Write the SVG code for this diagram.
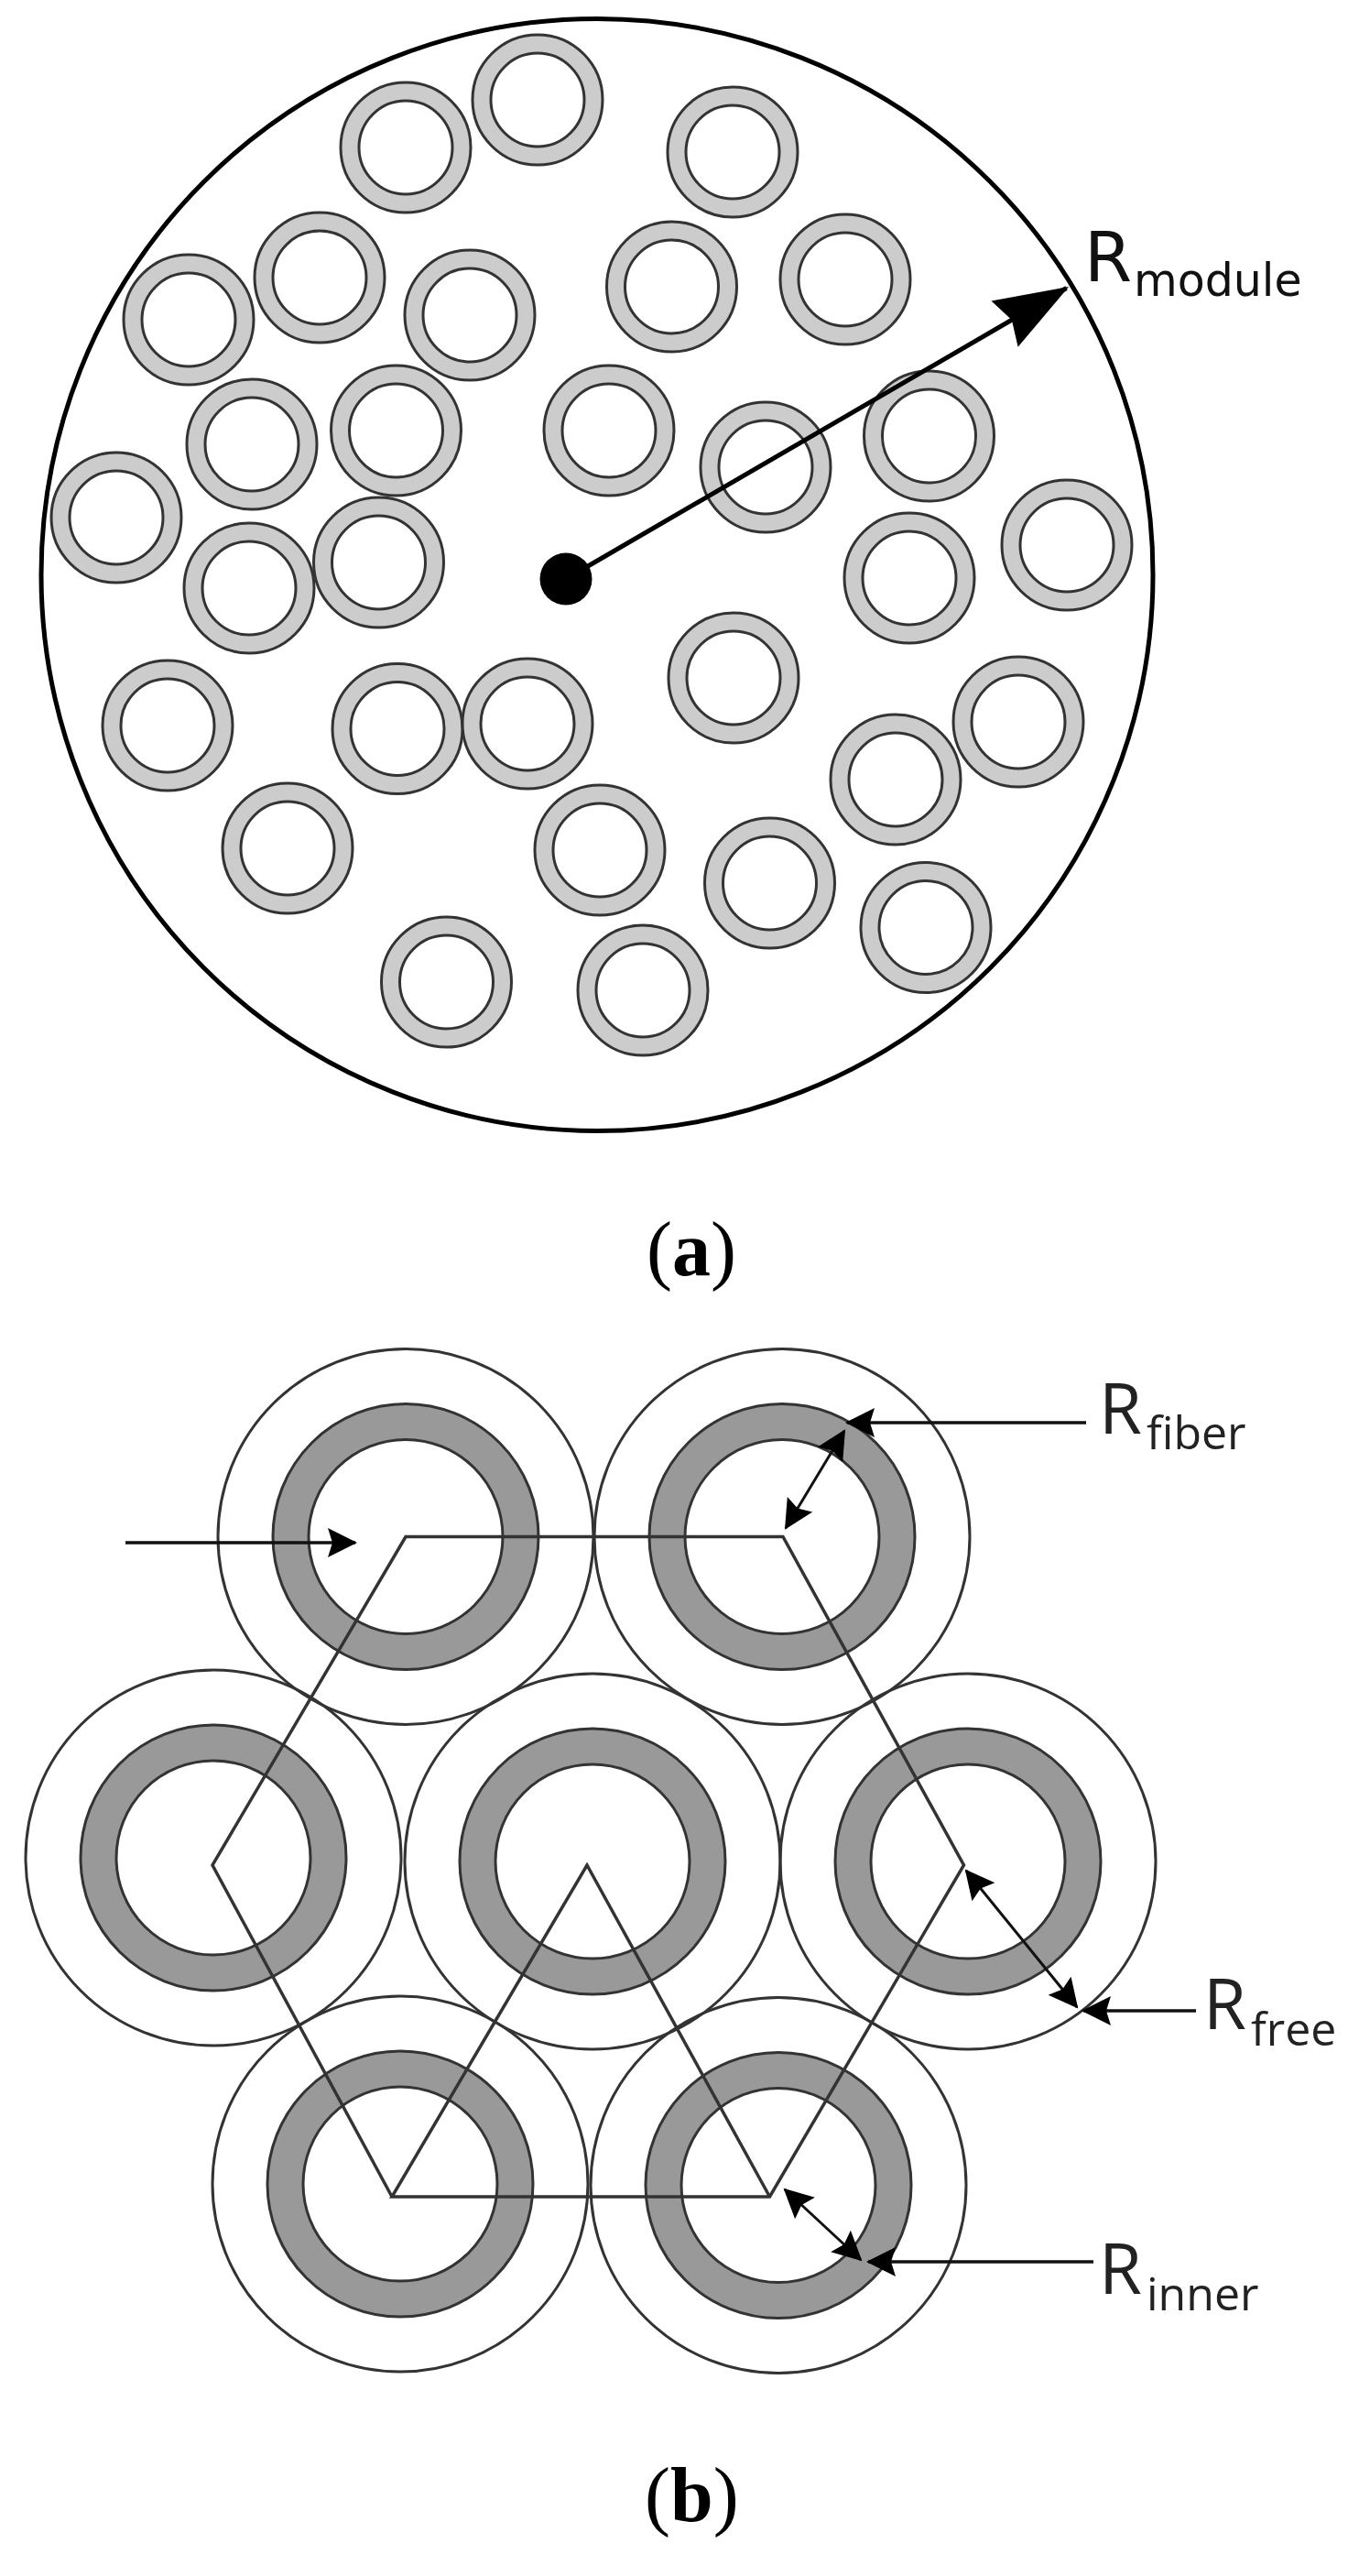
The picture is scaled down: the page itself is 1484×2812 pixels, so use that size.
<svg xmlns="http://www.w3.org/2000/svg" xmlns:xlink="http://www.w3.org/1999/xlink" width="1484" height="2812" viewBox="0 0 1484 2812">
<style>
.f1o{fill:#ccc;stroke:#333;stroke-width:3}
.f1i{fill:#fff;stroke:#333;stroke-width:3}
.f2f{fill:none;stroke:#333;stroke-width:3}
.f2o{fill:#999;stroke:#333;stroke-width:3}
.f2i{fill:#fff;stroke:#333;stroke-width:3}
.lat{fill:none;stroke:#333;stroke-width:3.5;stroke-linejoin:miter}
.ar{fill:none;stroke:#111;stroke-width:3.5}
.ard{fill:none;stroke:#111;stroke-width:3}
.R1{font-family:"DejaVu Sans",sans-serif;fill:#111}
.R2{font-family:"Open Sans",sans-serif;fill:#222}
.cap{font-family:"Liberation Serif",serif;font-size:84px;fill:#000}
.b{font-weight:bold}
</style>
<defs>
<marker id="hBig" markerUnits="userSpaceOnUse" markerWidth="90" markerHeight="70" viewBox="0 -35 90 70" refX="78" refY="0" orient="auto"><path d="M0,-29L81,0L0,29L9,0z" fill="#000"/></marker>
<marker id="hS" markerUnits="userSpaceOnUse" markerWidth="40" markerHeight="40" viewBox="0 -20 40 40" refX="30" refY="0" orient="auto-start-reverse"><path d="M0,-16L32,0L0,16L5,0z" fill="#000"/></marker>
<g id="f"><circle class="f1o" r="71"/><circle class="f1i" r="51"/></g>
<g id="c"><circle class="f2f" r="205"/><circle class="f2o" r="145"/><circle class="f2i" r="106"/></g>
</defs>
<rect width="1484" height="2812" fill="#fff"/>
<g id="module">
<circle cx="652" cy="627.5" r="607" fill="none" stroke="#000" stroke-width="5"/>
<use id="a1" href="#f" x="587" y="109"/>
<use id="a2" href="#f" x="443" y="161"/>
<use id="a3" href="#f" x="800" y="166"/>
<use id="a4" href="#f" x="206" y="349"/>
<use id="a5" href="#f" x="349" y="303"/>
<use id="a6" href="#f" x="513" y="344"/>
<use id="a7" href="#f" x="733.5" y="313"/>
<use id="a8" href="#f" x="923" y="305"/>
<use id="a9" href="#f" x="275" y="485"/>
<use id="a10" href="#f" x="432.5" y="470"/>
<use id="a11" href="#f" x="665" y="470"/>
<use id="a12" href="#f" x="836" y="510"/>
<use id="a13" href="#f" x="1014.5" y="476"/>
<use id="a14" href="#f" x="127" y="565"/>
<use id="a15" href="#f" x="272" y="642"/>
<use id="a16" href="#f" x="413.5" y="614"/>
<use id="a17" href="#f" x="993" y="631"/>
<use id="a18" href="#f" x="1165" y="595"/>
<use id="a19" href="#f" x="801" y="740"/>
<use id="a20" href="#f" x="183" y="792"/>
<use id="a21" href="#f" x="434" y="795.5"/>
<use id="a22" href="#f" x="576" y="790"/>
<use id="a23" href="#f" x="1112" y="788"/>
<use id="a24" href="#f" x="978" y="851"/>
<use id="a25" href="#f" x="314" y="926"/>
<use id="a26" href="#f" x="655" y="928"/>
<use id="a27" href="#f" x="840.5" y="964"/>
<use id="a28" href="#f" x="1011" y="1012.5"/>
<use id="a29" href="#f" x="487.5" y="1072"/>
<use id="a30" href="#f" x="702" y="1081"/>
<circle id="centre" cx="618" cy="632" r="28.5" fill="#000"/>
</g>
<g id="connectors-a">
<line x1="618" y1="632" x2="1164.5" y2="314.5" stroke="#000" stroke-width="5" marker-end="url(#hBig)"/>
</g>
<g id="labels-a">
<text class="R1" x="1184" y="307" font-size="75">R</text>
<text class="R1" x="1238" y="323" font-size="49">module</text>
<text class="cap" x="706" y="1392"><tspan>(</tspan><tspan class="b">a</tspan><tspan>)</tspan></text>
</g>
<g id="bundle">
<use id="b1" href="#c" x="443" y="1677.5"/>
<use id="b2" href="#c" x="854" y="1677.5"/>
<use id="b3" href="#c" x="233" y="2028"/>
<use id="b4" href="#c" x="647" y="2032"/>
<use id="b5" href="#c" x="1057" y="2032"/>
<use id="b6" href="#c" x="437" y="2384"/>
<use id="b7" href="#c" x="850" y="2385.5"/>
</g>
<g id="connectors-b">
<path class="lat" d="M428,2398L232,2036L443,1677.5H855L1052.5,2036L840.5,2398H428L641,2036L840.5,2398"/>
<line class="ar" x1="137" y1="1684" x2="388" y2="1684" marker-end="url(#hS)"/>
<line class="ar" x1="1186" y1="1553" x2="925" y2="1553" marker-end="url(#hS)"/>
<line class="ard" x1="922" y1="1562" x2="858" y2="1668" marker-start="url(#hS)" marker-end="url(#hS)"/>
<line class="ar" x1="1306" y1="2195" x2="1183" y2="2195" marker-end="url(#hS)"/>
<line class="ard" x1="1055" y1="2042" x2="1176" y2="2191" marker-start="url(#hS)" marker-end="url(#hS)"/>
<line class="ar" x1="1194" y1="2469" x2="948" y2="2469" marker-end="url(#hS)"/>
<line class="ard" x1="857" y1="2390" x2="940" y2="2467" marker-start="url(#hS)" marker-end="url(#hS)"/>
</g>
<g id="labels-b">
<text class="R2" x="1200" y="1565" font-size="76">R</text>
<text class="R2" x="1252" y="1582" font-size="50">fiber</text>
<text class="R2" x="1314" y="2215" font-size="76">R</text>
<text class="R2" x="1366" y="2233" font-size="50">free</text>
<text class="R2" x="1200" y="2504" font-size="76">R</text>
<text class="R2" x="1252" y="2522" font-size="50">inner</text>
<text class="cap" x="704" y="2752"><tspan>(</tspan><tspan class="b">b</tspan><tspan>)</tspan></text>
</g>
</svg>
